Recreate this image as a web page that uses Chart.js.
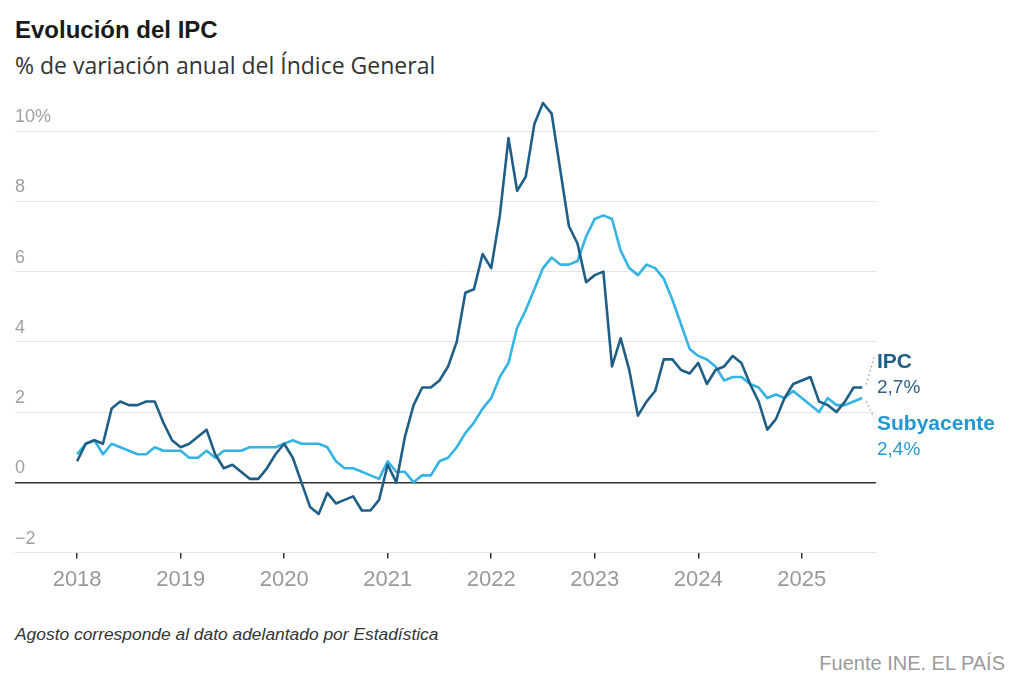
<!DOCTYPE html>
<html lang="es">
<head>
<meta charset="utf-8">
<title>Evolución del IPC</title>
<script src="https://cdn.jsdelivr.net/npm/chart.js@4.4.1/dist/chart.umd.min.js"></script>
<style>
    html, body { margin: 0; padding: 0; background: #fff; }
    body { width: 1031px; height: 700px; position: relative; overflow: hidden; font-family: 'Liberation Sans', Arial, sans-serif; }
    .title { position: absolute; left: 15px; top: 16px; font-size: 24px; font-weight: bold; color: #1a1a1a; }
    .subtitle { position: absolute; left: 15px; top: 49px; font-size: 23px; color: #333; font-family: 'Open Sans', 'Liberation Sans', sans-serif; }
    .chart-box { position: absolute; left: 0; top: 0; width: 1031px; height: 611px; }
    .note { position: absolute; left: 15px; top: 624px; font-size: 17.4px; font-style: italic; color: #333; }
    .source { position: absolute; right: 26px; top: 652px; font-size: 20px; color: #9a9a9a; }
</style>
</head>
<body>
<div class="title">Evolución del IPC</div>
<div class="subtitle">% de variación anual del Índice General</div>
<div class="chart-box"><canvas id="ipcChart"></canvas></div>
<div class="note">Agosto corresponde al dato adelantado por Estadística</div>
<div class="source">Fuente INE. EL PAÍS</div>

<script>
// ============================================================
// IPC vs subyacente, % anual, enero 2018 - agosto 2025 (mensual)
// ============================================================

const yearLabels = ['2018', '2019', '2020', '2021', '2022', '2023', '2024', '2025'];

const ipc = [
    0.6, 1.1, 1.2, 1.1, 2.1, 2.3, 2.2, 2.2, 2.3, 2.3, 1.7, 1.2,       // 2018
    1.0, 1.1, 1.3, 1.5, 0.8, 0.4, 0.5, 0.3, 0.1, 0.1, 0.4, 0.8,       // 2019
    1.1, 0.7, 0.0, -0.7, -0.9, -0.3, -0.6, -0.5, -0.4, -0.8, -0.8, -0.5, // 2020
    0.5, 0.0, 1.3, 2.2, 2.7, 2.7, 2.9, 3.3, 4.0, 5.4, 5.5, 6.5,       // 2021
    6.1, 7.6, 9.8, 8.3, 8.7, 10.2, 10.8, 10.5, 8.9, 7.3, 6.8, 5.7,    // 2022
    5.9, 6.0, 3.3, 4.1, 3.2, 1.9, 2.3, 2.6, 3.5, 3.5, 3.2, 3.1,       // 2023
    3.4, 2.8, 3.2, 3.3, 3.6, 3.4, 2.8, 2.3, 1.5, 1.8, 2.4, 2.8,       // 2024
    2.9, 3.0, 2.3, 2.2, 2.0, 2.3, 2.7, 2.7                            // 2025
];

const subyacente = [
    0.8, 1.1, 1.2, 0.8, 1.1, 1.0, 0.9, 0.8, 0.8, 1.0, 0.9, 0.9,       // 2018
    0.9, 0.7, 0.7, 0.9, 0.7, 0.9, 0.9, 0.9, 1.0, 1.0, 1.0, 1.0,       // 2019
    1.1, 1.2, 1.1, 1.1, 1.1, 1.0, 0.6, 0.4, 0.4, 0.3, 0.2, 0.1,       // 2020
    0.6, 0.3, 0.3, 0.0, 0.2, 0.2, 0.6, 0.7, 1.0, 1.4, 1.7, 2.1,       // 2021
    2.4, 3.0, 3.4, 4.4, 4.9, 5.5, 6.1, 6.4, 6.2, 6.2, 6.3, 7.0,       // 2022
    7.5, 7.6, 7.5, 6.6, 6.1, 5.9, 6.2, 6.1, 5.8, 5.2, 4.5, 3.8,       // 2023
    3.6, 3.5, 3.3, 2.9, 3.0, 3.0, 2.8, 2.7, 2.4, 2.5, 2.4, 2.6,       // 2024
    2.4, 2.2, 2.0, 2.4, 2.2, 2.2, 2.3, 2.4                            // 2025
];

const yTicks = [-2, 0, 2, 4, 6, 8, 10];
const yTickLabels = ['\u22122', '0', '2', '4', '6', '8', '10%'];

const COLOR_IPC = '#1f5f87';
const COLOR_SUB = '#33b4e4';
const FONT = "'Liberation Sans', Arial, sans-serif";

// month index (0 = ene 2018) -> point
const toPoints = arr => arr.map((v, i) => ({ x: i, y: v }));

// end labels + dotted leaders
const endLabels = {
    id: 'endLabels',
    afterDatasetsDraw(chart) {
        const { ctx } = chart;
        const pIpc = chart.getDatasetMeta(0).data[ipc.length - 1];
        const pSub = chart.getDatasetMeta(1).data[subyacente.length - 1];
        const tx = chart.chartArea.right + 1;

        ctx.save();
        ctx.strokeStyle = '#8ea3b4';
        ctx.lineWidth = 1.3;
        ctx.setLineDash([1.5, 3]);
        ctx.beginPath();
        ctx.moveTo(pIpc.x + 4, pIpc.y - 3);
        ctx.lineTo(tx - 3, pIpc.y - 30);
        ctx.moveTo(pSub.x + 4, pSub.y + 3);
        ctx.lineTo(tx - 3, pSub.y + 20);
        ctx.stroke();
        ctx.setLineDash([]);

        ctx.textAlign = 'left';
        ctx.textBaseline = 'middle';
        ctx.font = `bold 21px ${FONT}`;
        ctx.fillStyle = COLOR_IPC;
        ctx.fillText('IPC', tx, 362);
        ctx.font = `19px ${FONT}`;
        ctx.fillStyle = '#2f5f82';
        ctx.fillText(`${ipc[ipc.length - 1].toFixed(1).replace('.', ',')}%`, tx, 388);

        ctx.font = `bold 21px ${FONT}`;
        ctx.fillStyle = '#2298d2';
        ctx.fillText('Subyacente', tx, 424);
        ctx.font = `19px ${FONT}`;
        ctx.fillStyle = '#2a9ad0';
        ctx.fillText(`${subyacente[subyacente.length - 1].toFixed(1).replace('.', ',')}%`, tx, 450);
        ctx.restore();
    }
};

new Chart(document.getElementById('ipcChart'), {
    type: 'line',
    data: {
        datasets: [
            {
                label: 'IPC',
                data: toPoints(ipc),
                borderColor: COLOR_IPC,
                borderWidth: 2.6,
                tension: 0,
                pointRadius: 0,
                borderJoinStyle: 'round'
            },
            {
                label: 'Subyacente',
                data: toPoints(subyacente),
                borderColor: COLOR_SUB,
                borderWidth: 2.6,
                tension: 0,
                pointRadius: 0,
                borderJoinStyle: 'round'
            }
        ]
    },
    options: {
        responsive: true,
        maintainAspectRatio: false,
        animation: false,
        layout: {
            padding: { left: 15, right: 155, top: 96, bottom: 10 }
        },
        plugins: {
            legend: { display: false },
            tooltip: { enabled: false }
        },
        scales: {
            x: {
                type: 'linear',
                min: -7.2,
                max: 92.6,
                afterBuildTicks: scale => {
                    scale.ticks = yearLabels.map((_, i) => ({ value: i * 12 }));
                },
                grid: {
                    drawOnChartArea: false,
                    drawTicks: true,
                    tickLength: 6,
                    color: '#333',
                    lineWidth: 1.5
                },
                border: { display: false },
                ticks: {
                    padding: 8,
                    color: '#999',
                    font: { family: FONT, size: 22 },
                    maxRotation: 0,
                    callback: value => yearLabels[Math.round(value / 12)]
                }
            },
            y: {
                min: -2,
                max: 11,
                afterBuildTicks: scale => {
                    scale.ticks = yTicks.map(v => ({ value: v }));
                },
                grid: {
                    drawTicks: false,
                    color: ctx => ctx.tick && ctx.tick.value === 0 ? '#333' : '#e4e4e4',
                    lineWidth: ctx => ctx.tick && ctx.tick.value === 0 ? 1.5 : 1
                },
                border: { display: false },
                ticks: {
                    mirror: true,
                    padding: 0,
                    labelOffset: -14,
                    color: '#a0a0a0',
                    font: { family: FONT, size: 18 },
                    callback: value => yTickLabels[yTicks.indexOf(value)]
                }
            }
        }
    },
    plugins: [endLabels]
});
</script>
</body>
</html>
